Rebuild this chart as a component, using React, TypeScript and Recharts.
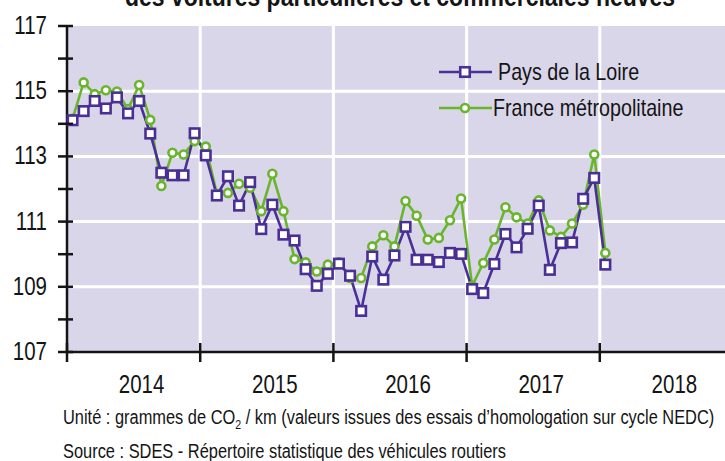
import { LineChart, Line, XAxis, YAxis, CartesianGrid, Legend } from "recharts";

// monthly values, Jan 2014 .. Jan 2018
const PAYS = [
  114.11, 114.39, 114.7, 114.47, 114.81, 114.32, 114.7, 113.7, 112.5, 112.42, 112.42, 113.71,
  113.03, 111.8, 112.39, 111.49, 112.21, 110.77, 111.52, 110.6, 110.42, 109.54, 109.03, 109.4,
  109.71, 109.34, 108.26, 109.93, 109.22, 109.96, 110.84, 109.83, 109.83, 109.76, 110.04, 110.01,
  108.93, 108.81, 109.7, 110.62, 110.21, 110.78, 111.49, 109.52, 110.34, 110.36, 111.7, 112.34,
  109.68,
];
const FRANCE = [
  114.15, 115.27, 114.91, 115.03, 114.99, 114.45, 115.19, 114.12, 112.09, 113.11, 113.06, 113.47,
  113.3, 111.85, 111.88, 112.16, 112.04, 111.32, 112.47, 111.32, 109.85, 109.75, 109.47, 109.68,
  109.75, 109.27, 109.27, 110.24, 110.58, 110.24, 111.63, 111.18, 110.45, 110.5, 111.04, 111.71,
  109.03, 109.73, 110.45, 111.44, 111.13, 110.94, 111.65, 110.73, 110.53, 110.94, 111.52, 113.06,
  110.04,
];
const YEARS = ["2014", "2015", "2016", "2017", "2018"];
const YEAR_STARTS = [-0.5, 11.5, 23.5, 35.5, 47.5];
const Y_TICKS = [107, 108, 109, 110, 111, 112, 113, 114, 115, 116, 117];
const Y_GRID = [109, 111, 113, 115];

const PURPLE = "#4a2f95";
const GREEN = "#69b52c";
const BG = "#d9d6ea";
const INK = "#141414";
// no narrow font installed: Liberation Sans squeezed to 82% ~ Arial Narrow
const FONT = "'Liberation Sans', Arial, sans-serif";
const NARROW = 0.82;

const CHART_W = 740;
const CHART_H = 461;
const MARGIN = { top: 26, right: 7, left: 0, bottom: 0 };
const Y_AXIS_W = 67;
const X_AXIS_H = 109;
const HALF_YEAR = ((CHART_W - Y_AXIS_W - MARGIN.right) / 60) * 6;

const data = PAYS.map((v, i) => ({ m: i, pays: v, france: FRANCE[i] }));

const SERIES = [
  { key: "pays", name: "Pays de la Loire", color: PURPLE, shape: "square" },
  { key: "france", name: "France métropolitaine", color: GREEN, shape: "circle" },
];

function Marker({ cx, cy, color, shape }: any) {
  if (shape === "square")
    return <rect x={cx - 4.75} y={cy - 4.75} width={9.5} height={9.5} fill="#fff" stroke={color} strokeWidth={2.6} />;
  return <circle cx={cx} cy={cy} r={4} fill="#fff" stroke={color} strokeWidth={2.6} />;
}

function NarrowText({ x, y, anchor, size, children }: any) {
  return (
    <g transform={`translate(${x},${y}) scale(${NARROW},1)`}>
      <text x={0} y={0} textAnchor={anchor} fontSize={size} fill={INK} fontFamily={FONT}>
        {children}
      </text>
    </g>
  );
}

function YTick({ x, y, payload }: any) {
  return (
    <g>
      <line x1={x - 9} x2={x + 6} y1={y} y2={y} stroke={INK} strokeWidth={2.5} />
      {payload.value % 2 === 1 && (
        <NarrowText x={x - 20} y={y + 8} anchor="end" size={25}>
          {payload.value}
        </NarrowText>
      )}
    </g>
  );
}

function XTick({ x, y, index }: any) {
  return (
    <g>
      <line x1={x} x2={x} y1={y - 9} y2={y + 10} stroke={INK} strokeWidth={2.5} />
      <NarrowText x={x + HALF_YEAR + 8} y={y + 41} anchor="middle" size={25}>
        {YEARS[index]}
      </NarrowText>
    </g>
  );
}

const narrowLeft = { transform: `scaleX(${NARROW})`, transformOrigin: "0 0" };

function LegendBox() {
  return (
    <div style={{ fontFamily: FONT }}>
      {SERIES.map((s) => (
        <div key={s.key} style={{ display: "flex", alignItems: "center", height: 36 }}>
          <svg width={63} height={20}>
            <line x1={4} x2={57} y1={10} y2={10} stroke={s.color} strokeWidth={2.6} />
            <Marker cx={30} cy={10} color={s.color} shape={s.shape} />
          </svg>
          <span style={{ ...narrowLeft, display: "inline-block", fontSize: 24, color: INK, whiteSpace: "nowrap" }}>
            {s.name}
          </span>
        </div>
      ))}
    </div>
  );
}

export default function App() {
  return (
    <div
      style={{
        position: "absolute",
        left: 0,
        top: 0,
        width: 725,
        height: 461,
        overflow: "hidden",
        background: "#fff",
        fontFamily: FONT,
      }}
    >
      <div
        style={{
          position: "absolute",
          top: -15,
          left: 0,
          width: 800,
          textAlign: "center",
          fontSize: 28,
          lineHeight: "24px",
          fontWeight: 700,
          color: INK,
          whiteSpace: "nowrap",
          transform: `scaleX(${NARROW})`,
          transformOrigin: "400px 0",
        }}
      >
        des voitures particulières et commerciales neuves
      </div>
      <LineChart width={CHART_W} height={CHART_H} data={data} margin={MARGIN}>
        <CartesianGrid
          fill={BG}
          stroke="#fff"
          strokeWidth={3}
          horizontalValues={Y_GRID}
          verticalValues={YEAR_STARTS.slice(1)}
        />
        <XAxis
          dataKey="m"
          type="number"
          domain={[-0.5, 59.5]}
          ticks={YEAR_STARTS}
          interval={0}
          tickSize={0}
          tickMargin={0}
          tickLine={false}
          axisLine={{ stroke: INK, strokeWidth: 2.5 }}
          tick={<XTick />}
          height={X_AXIS_H}
        />
        <YAxis
          type="number"
          domain={[107, 117]}
          ticks={Y_TICKS}
          interval={0}
          tickSize={0}
          tickMargin={0}
          tickLine={false}
          axisLine={{ stroke: INK, strokeWidth: 2.5 }}
          tick={<YTick />}
          width={Y_AXIS_W}
        />
        <Legend
          layout="vertical"
          align="center"
          verticalAlign="middle"
          content={<LegendBox />}
          wrapperStyle={{ position: "absolute", left: 435, top: 54, width: 290 }}
        />
        <Line
          dataKey="france"
          name="France métropolitaine"
          stroke={GREEN}
          strokeWidth={2.6}
          isAnimationActive={false}
          dot={(p: any) => <Marker key={p.index} cx={p.cx} cy={p.cy} color={GREEN} shape="circle" />}
          activeDot={false}
        />
        <Line
          dataKey="pays"
          name="Pays de la Loire"
          stroke={PURPLE}
          strokeWidth={2.6}
          isAnimationActive={false}
          dot={(p: any) => <Marker key={p.index} cx={p.cx} cy={p.cy} color={PURPLE} shape="square" />}
          activeDot={false}
        />
      </LineChart>
      <div style={{ ...narrowLeft, position: "absolute", left: 63, top: 405, fontSize: 20, lineHeight: "24px", color: INK, whiteSpace: "nowrap" }}>
        Unité : grammes de CO<sub style={{ fontSize: 13, lineHeight: 0 }}>2</sub> / km (valeurs issues des essais
        d’homologation sur cycle NEDC)
      </div>
      <div style={{ ...narrowLeft, position: "absolute", left: 63, top: 439, fontSize: 20, lineHeight: "24px", color: INK, whiteSpace: "nowrap" }}>
        Source : SDES - Répertoire statistique des véhicules routiers
      </div>
    </div>
  );
}
